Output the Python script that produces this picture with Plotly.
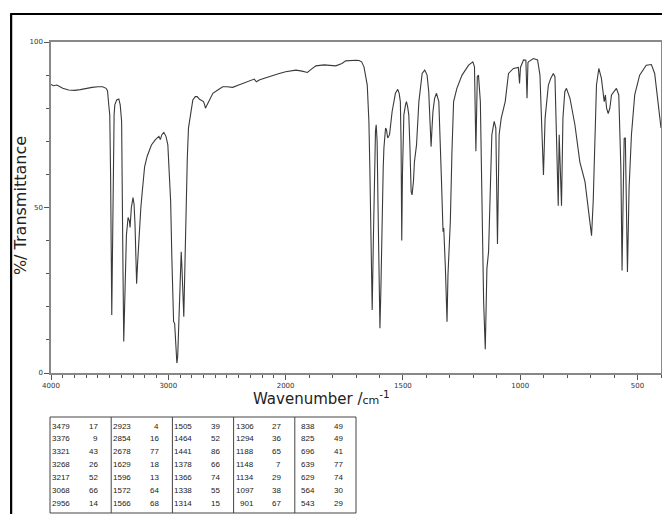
import numpy as np
import plotly.graph_objects as go

# ---------------- data ----------------
wavenumber = [4000, 3980, 3950, 3900, 3850, 3800, 3750, 3700, 3650, 3600, 3560, 3530, 3518, 3505, 3499,
              3492, 3486, 3482, 3478, 3470, 3462, 3456, 3440, 3422, 3410, 3398, 3392, 3386, 3380, 3372,
              3365, 3357, 3343, 3332, 3326, 3315, 3301, 3292, 3284, 3276, 3270, 3262, 3252, 3244, 3234,
              3224, 3212, 3202, 3180, 3160, 3144, 3110, 3080, 3068, 3055, 3038, 3020, 3004, 2992, 2980,
              2970, 2962, 2955, 2946, 2938, 2932, 2927, 2920, 2912, 2904, 2896, 2890, 2884, 2876, 2868,
              2860, 2852, 2848, 2838, 2828, 2810, 2791, 2770, 2754, 2734, 2715, 2700, 2690, 2683, 2670,
              2650, 2620, 2578, 2536, 2500, 2451, 2400, 2366, 2320, 2280, 2267, 2250, 2220, 2168, 2120,
              2054, 2000, 1956, 1930, 1907, 1890, 1871, 1836, 1786, 1760, 1744, 1700, 1687, 1676, 1666,
              1652, 1645, 1641, 1636, 1631, 1626, 1621, 1617, 1614, 1610, 1606, 1601, 1598, 1594, 1588,
              1584, 1581, 1576, 1574, 1570, 1565, 1557, 1546, 1532, 1522, 1516, 1511, 1508, 1505, 1502,
              1496, 1489, 1485, 1480, 1475, 1470, 1465, 1461, 1455, 1451, 1442, 1432, 1418, 1407, 1397,
              1390, 1385, 1380, 1376, 1372, 1365, 1357, 1347, 1343, 1340, 1336, 1329, 1326, 1319, 1312,
              1308, 1303, 1298, 1291, 1284, 1270, 1248, 1220, 1202, 1195, 1189, 1183, 1178, 1170, 1164,
              1156, 1149, 1142, 1135, 1128, 1121, 1111, 1104, 1097, 1090, 1081, 1064, 1050, 1029, 1008,
              1003, 999, 986, 976, 971, 967, 965, 944, 926, 916, 909, 901, 894, 880, 870,
              859, 852, 845, 841, 838, 834, 828, 824, 818, 810, 803, 788, 767, 746, 724,
              710, 696, 689, 682, 675, 665, 654, 642, 637, 632, 625, 618, 611, 590, 580,
              571, 566, 562, 557, 552, 546, 543, 539, 536, 526, 512, 491, 463, 441, 427,
              413, 400]
transmittance = [87.2, 86.8, 87.0, 86.0, 85.5, 85.4, 85.6, 86.0, 86.3, 86.5, 86.5, 86.0, 85.2, 80.0, 78.0,
                 60.0, 25.0, 17.5, 30.0, 60.0, 78.0, 81.0, 82.5, 82.8, 81.0, 76.0, 60.0, 30.0, 9.5, 25.0,
                 35.0, 41.7, 47.0, 46.0, 44.0, 50.0, 53.0, 51.0, 45.0, 33.0, 27.0, 33.0, 40.0, 45.7, 50.0,
                 54.0, 59.0, 62.3, 65.5, 67.8, 68.9, 70.5, 71.5, 70.5, 72.0, 72.7, 71.5, 68.9, 62.0, 51.8,
                 35.0, 18.0, 15.5, 15.0, 10.0, 5.0, 3.0, 5.0, 15.0, 23.6, 30.0, 36.6, 32.0, 22.0, 17.0,
                 30.0, 45.0, 51.8, 65.0, 74.0, 79.0, 82.5, 83.5, 83.5, 82.7, 82.2, 82.0, 81.0, 80.0, 81.0,
                 82.5, 84.5, 85.5, 86.5, 86.5, 86.3, 87.0, 87.5, 88.0, 88.8, 88.8, 88.0, 88.6, 89.2, 89.8,
                 90.5, 91.0, 91.5, 91.2, 90.8, 91.8, 92.8, 93.1, 92.8, 93.5, 94.3, 94.5, 94.4, 94.0, 92.5,
                 87.0, 76.0, 62.0, 40.0, 19.0, 40.0, 66.9, 73.0, 75.0, 70.0, 50.0, 25.0, 13.5, 25.0, 51.8,
                 62.0, 68.0, 73.0, 74.0, 73.5, 71.0, 72.0, 79.0, 84.5, 85.7, 84.5, 82.0, 70.0, 40.0, 60.0,
                 78.0, 81.0, 82.0, 80.5, 78.0, 68.0, 54.8, 53.8, 58.0, 63.8, 68.9, 82.0, 90.5, 91.5, 90.0,
                 85.0, 77.0, 68.4, 74.0, 79.0, 83.0, 84.5, 82.0, 72.0, 61.8, 58.8, 42.7, 43.8, 31.7, 15.5,
                 29.6, 38.0, 45.7, 66.9, 82.0, 86.0, 90.0, 93.0, 94.0, 92.5, 67.0, 89.5, 90.0, 82.0, 51.8,
                 21.5, 7.2, 31.6, 36.6, 56.8, 71.9, 76.0, 74.0, 39.0, 72.0, 77.0, 82.0, 90.5, 92.0, 92.3,
                 87.5, 92.3, 94.6, 94.5, 83.0, 93.8, 94.0, 95.0, 94.6, 90.0, 77.0, 59.8, 77.0, 87.0, 89.0,
                 90.5, 89.5, 72.0, 57.8, 50.5, 72.0, 59.8, 50.5, 77.0, 85.0, 86.0, 83.0, 75.0, 63.8, 57.8,
                 48.7, 41.5, 51.8, 72.0, 87.0, 92.0, 89.0, 82.0, 84.0, 80.0, 78.4, 80.0, 84.0, 86.0, 84.0,
                 61.8, 31.0, 50.0, 70.9, 71.0, 45.0, 30.5, 45.0, 55.9, 72.0, 84.0, 90.0, 93.0, 93.2, 90.5,
                 82.0, 74.0]

# peak table (read column by column)
peak_wavenumber = [3479, 3376, 3321, 3268, 3217, 3068, 2956,
                   2923, 2854, 2678, 1629, 1596, 1572, 1566,
                   1505, 1464, 1441, 1378, 1366, 1338, 1314,
                   1306, 1294, 1188, 1148, 1134, 1097, 901,
                   838, 825, 696, 639, 629, 564, 543]
peak_T = [17, 9, 43, 26, 52, 66, 14,
          4, 16, 77, 18, 13, 64, 68,
          39, 52, 86, 66, 74, 55, 15,
          27, 36, 65, 7, 29, 38, 67,
          49, 49, 41, 77, 74, 30, 29]

x_major = [4000, 3000, 2000, 1500, 1000, 500]
x_major_text = ["4000", "3000", "2000", "1500", "1000", "500"]
y_major = [0, 50, 100]
y_major_text = ["0", "50", "100"]


# ---------------- axis transform (2x expansion below 2000 cm-1) ----------------
def to_u(w):
    w = np.asarray(w, dtype=float)
    return np.where(w >= 2000, (4000 - w) / 2.0, 1000 + (2000 - w))


x_minor = [w for w in range(4000, 399, -100) if w not in x_major]

fig = go.Figure()
fig.add_trace(go.Scatter(
    x=to_u(wavenumber), y=transmittance, mode="lines",
    line=dict(color="#3a3a3a", width=1.1), hoverinfo="skip", showlegend=False))

OFF = 8  # page body margin
W, H = 670 - OFF, 514 - OFF
L, R, T, B = 51, 663, 42, 373  # plot area in page pixels


def px(xp):
    return (xp - L) / (R - L)


def py(yp):
    return (B - yp) / (B - T)


tick_font = dict(family="DejaVu Sans", size=7, color="#333")
fig.update_layout(
    width=W, height=H,
    margin=dict(l=L - OFF, r=670 - R, t=T - OFF, b=514 - B),
    paper_bgcolor="white", plot_bgcolor="white",
    xaxis=dict(range=[0, 2600], tickmode="array", tickvals=to_u(x_major), ticktext=x_major_text,
               ticks="outside", ticklen=5, tickwidth=1, tickcolor="#555",
               showline=True, linecolor="#888", linewidth=1.5, mirror=True,
               showgrid=False, zeroline=False, tickfont=tick_font,
               minor=dict(tickmode="array", tickvals=to_u(x_minor), ticks="outside",
                          ticklen=3, tickcolor="#555", showgrid=False)),
    yaxis=dict(range=[0, 100], tickmode="array", tickvals=y_major, ticktext=y_major_text,
               ticks="outside", ticklen=5, tickwidth=1, tickcolor="#555",
               showline=True, linecolor="#888", linewidth=1.5, mirror=True,
               showgrid=False, zeroline=False, tickfont=tick_font,
               minor=dict(tickmode="array", tickvals=list(range(10, 100, 10)), ticks="outside",
                          ticklen=3, tickcolor="#555", showgrid=False)),
)

annotations = []
shapes = []

# axis titles
annotations.append(dict(text="%/ Transmittance", x=px(20), y=py(206), xref="paper", yref="paper",
                        textangle=-90, showarrow=False, xanchor="center", yanchor="middle",
                        font=dict(family="DejaVu Sans", size=16, color="#222")))
annotations.append(dict(text="Wavenumber /<span style='font-size:11px'>cm</span><sup>-1</sup>",
                        x=px(322), y=py(398), xref="paper", yref="paper",
                        showarrow=False, xanchor="center", yanchor="middle",
                        font=dict(family="DejaVu Sans", size=15, color="#222")))

# outer black frame (left and top)
shapes.append(dict(type="line", xref="paper", yref="paper", x0=px(11), x1=px(11), y0=py(14), y1=py(540),
                   line=dict(color="black", width=2.2)))
shapes.append(dict(type="line", xref="paper", yref="paper", x0=px(10), x1=px(700), y0=py(14), y1=py(14),
                   line=dict(color="black", width=2.2)))

# peak table
tab_left, tab_right, tab_top, tab_bot = 50, 357, 417, 513
col_w = 61.4
shapes.append(dict(type="rect", xref="paper", yref="paper", x0=px(tab_left), x1=px(tab_right),
                   y0=py(tab_bot), y1=py(tab_top), line=dict(color="#444", width=1)))
ncols = 5
nrows = 7
for c in range(1, ncols):
    xc = tab_left + c * col_w
    shapes.append(dict(type="line", xref="paper", yref="paper", x0=px(xc), x1=px(xc),
                       y0=py(tab_bot), y1=py(tab_top), line=dict(color="#444", width=1)))
cell_font = dict(family="Liberation Sans Narrow, Liberation Sans, sans-serif", size=8, color="#222")
for i, (w, t) in enumerate(zip(peak_wavenumber, peak_T)):
    c, r = divmod(i, nrows)
    x0 = tab_left + c * col_w
    yc = 426 + r * 12.9
    annotations.append(dict(text=str(w), x=px(x0 + 22), y=py(yc), xref="paper", yref="paper",
                            showarrow=False, xanchor="right", yanchor="middle", font=cell_font))
    annotations.append(dict(text=str(t), x=px(x0 + 50), y=py(yc), xref="paper", yref="paper",
                            showarrow=False, xanchor="right", yanchor="middle", font=cell_font))

fig.update_layout(annotations=annotations, shapes=shapes)
fig.write_html("out.html")
